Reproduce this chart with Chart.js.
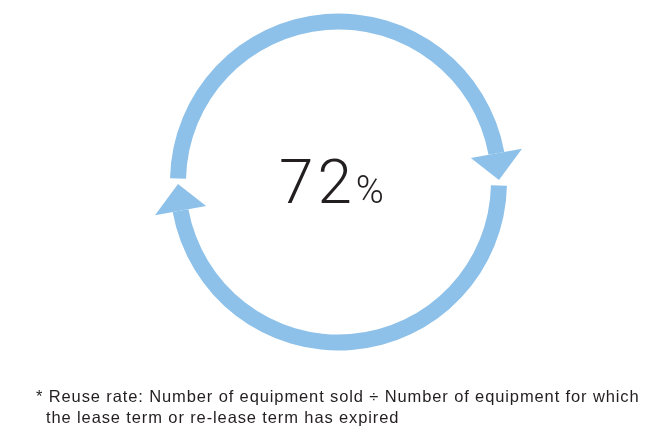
<!DOCTYPE html>
<html>
<head>
<meta charset="utf-8">
<script src="https://cdn.jsdelivr.net/npm/chart.js@4/dist/chart.umd.min.js"></script>
<style>
  html,body{margin:0;padding:0;background:#fff;}
  body{width:656px;height:430px;position:relative;overflow:hidden;font-family:"Liberation Sans",Arial,sans-serif;}
  #wrap{position:absolute;left:0;top:0;width:656px;height:430px;}
  #center{position:absolute;left:279px;top:145px;text-align:left;color:#231f20;
    font-family:Roboto,"Liberation Sans",sans-serif;font-weight:300;white-space:nowrap;}
  #center .num{font-size:62px;letter-spacing:4px;}
  #center .pct{font-size:38px;margin-left:0px;}
  #note{position:absolute;left:36px;top:386px;color:#231f20;font-size:16.5px;line-height:21px;letter-spacing:0.88px;white-space:nowrap;}
  #note .l2{padding-left:10px;}
</style>
</head>
<body>
<div id="wrap"><canvas id="c" width="656" height="430"></canvas></div>
<div id="center"><span class="num"></span><span class="pct">%</span></div>
<div id="note"><div class="l1"></div><div class="l2"></div></div>
<script>
// ---- data ----
const reuseRate = 72; // percent
const segmentLabels = ['flow to right', 'arrow head right', 'gap right', 'flow to left', 'arrow head left', 'gap left'];
const segmentDegrees = [168.5, 9.5, 2, 168.5, 9.5, 2];
const segmentRoles = ['arc', 'head', 'gap', 'arc', 'head', 'gap'];
const startDegree = 271.25;
const footnoteLines = [
  '* Reuse rate: Number of equipment sold \u00F7 Number of equipment for which',
  'the lease term or re-lease term has expired'
];

document.querySelector('#center .num').textContent = String(reuseRate);
document.querySelector('#note .l1').textContent = footnoteLines[0];
document.querySelector('#note .l2').textContent = footnoteLines[1];

const BLUE = '#8dc1e9';

const arrowHeads = {
  id: 'arrowHeads',
  afterDatasetsDraw(chart) {
    const ctx = chart.ctx;
    const meta = chart.getDatasetMeta(0);
    meta.data.forEach((arc, i) => {
      if (segmentRoles[i] !== 'head') return;
      const p = arc.getProps(['x', 'y', 'startAngle', 'endAngle', 'innerRadius', 'outerRadius'], true);
      const mid = (p.innerRadius + p.outerRadius) / 2;
      const half = 26;
      const sa = p.startAngle, ea = p.endAngle;
      ctx.save();
      ctx.fillStyle = BLUE;
      ctx.beginPath();
      ctx.moveTo(p.x + Math.cos(sa) * (mid - half), p.y + Math.sin(sa) * (mid - half));
      ctx.lineTo(p.x + Math.cos(sa) * (mid + half), p.y + Math.sin(sa) * (mid + half));
      ctx.lineTo(p.x + Math.cos(ea) * mid, p.y + Math.sin(ea) * mid);
      ctx.closePath();
      ctx.fill();
      ctx.restore();
    });
  }
};

new Chart(document.getElementById('c'), {
  type: 'doughnut',
  data: {
    labels: segmentLabels,
    datasets: [{
      data: segmentDegrees,
      backgroundColor: segmentRoles.map(r => r === 'arc' ? BLUE : 'rgba(0,0,0,0)'),
      borderWidth: 0,
      hoverOffset: 0
    }]
  },
  options: {
    responsive: false,
    animation: false,
    rotation: startDegree,
    circumference: 360,
    cutout: '90.5%',
    layout: { padding: { left: 170, right: 149, top: 13.5, bottom: 79.5 } },
    plugins: { legend: { display: false }, tooltip: { enabled: false } },
    events: []
  },
  plugins: [arrowHeads]
});
</script>
</body>
</html>
